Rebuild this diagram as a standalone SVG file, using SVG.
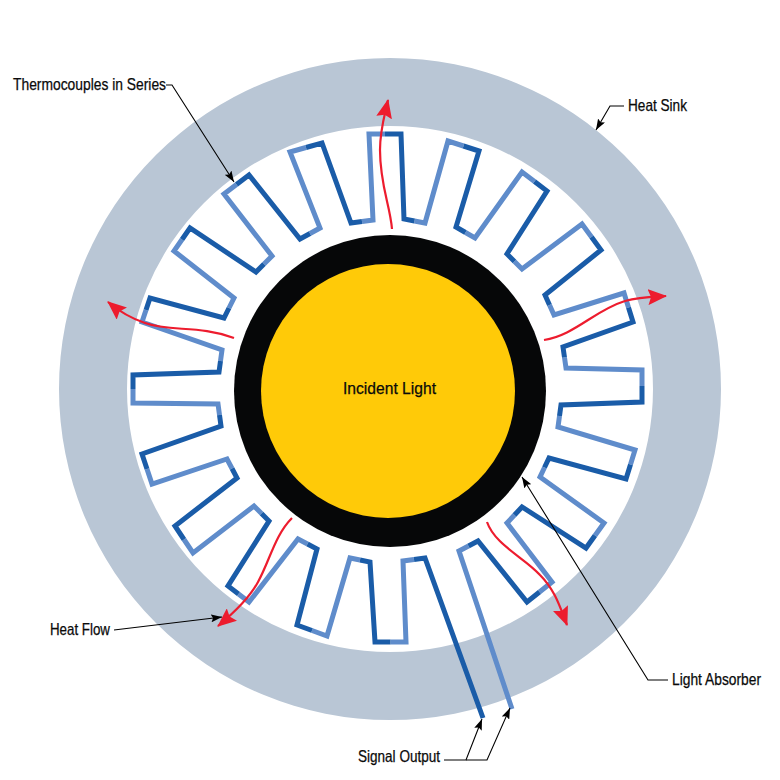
<svg xmlns="http://www.w3.org/2000/svg" width="780" height="780" viewBox="0 0 780 780">
<style>
text{font-family:"Liberation Sans",Arial,sans-serif;font-size:16.5px;fill:#0a0a0a;stroke:#0a0a0a;stroke-width:.25px}
.d,.l{fill:none;stroke-width:5;stroke-linejoin:miter;stroke-miterlimit:6}
.d{stroke:#1a5ca8}.l{stroke:#5f8ccb}
.r{fill:none;stroke:#ed1c2e;stroke-width:2.2}
.k{fill:none;stroke:#000;stroke-width:1.1}
</style>
<defs>
<marker id="ah" markerUnits="userSpaceOnUse" markerWidth="12" markerHeight="8" refX="11" refY="4" orient="auto"><path d="M0,0L11,4L0,8L2,4Z" fill="#000"/></marker>
<marker id="rh" markerUnits="userSpaceOnUse" markerWidth="20" markerHeight="16" refX="18" refY="8" orient="auto"><path d="M0,0L19,8L0,16L3,8Z" fill="#ed1c2e"/></marker>
</defs>
<g id="heat-sink"><path fill="#b9c6d5" fill-rule="evenodd" d="M59,389a331,331 0 1,0 662,0a331,331 0 1,0 -662,0ZM127,389a263,263 0 1,0 526,0a263,263 0 1,0 -526,0Z"/></g>
<g id="absorber"><circle cx="390" cy="391" r="156" fill="#060708"/></g>
<g id="light"><circle cx="388" cy="391" r="127" fill="#ffca08"/></g>
<g id="thermocouples">
<path class="l" d="M512,709L459,551L468.5,546M539.5,592L552,582L507,523L514.5,515M595,535.5L604,523L540,477L544.5,467.5M630.5,464.5L635,450L558,427L559.5,416M642,386L642,370L566,368L564.5,357.5M628.5,307.5L624,293L554,315L549.5,305M591.5,237L582,224L522,269L514.5,261.5M534.5,181.5L522,172L475,238L465.5,232.5M463.5,146L448,141L425,223L414.5,221M385,134L369,134L373,220L362,221.5M306,147.5L290,152L320,228L310,233.5M236.5,184.5L224,194L272,256L264,264M182,239.5L174,251L234,298L229,308M146,310L142,322L222,350L220.5,361M133,389L133,403L218,404L219.5,415M147,469L152,484L227,459L232,468.5M184,539.5L193,553L254,506L261.5,513.5M238.5,594L249,602L298,539L307.5,544M312,630.5L327,636L350,558L360,560M390.5,642L406,642L403,561L414,559.5"/>
<path class="d" d="M468.5,546L478,541L527,602L539.5,592M514.5,515L522,507L586,548L595,535.5M544.5,467.5L549,458L626,479L630.5,464.5M559.5,416L561,405L642,402L642,386M564.5,357.5L563,347L633,322L628.5,307.5M549.5,305L545,295L601,250L591.5,237M514.5,261.5L507,254L547,191L534.5,181.5M465.5,232.5L456,227L479,151L463.5,146M414.5,221L404,219L401,134L385,134M362,221.5L351,223L322,143L306,147.5M310,233.5L300,239L249,175L236.5,184.5M264,264L256,272L190,228L182,239.5M229,308L224,318L150,298L146,310M220.5,361L219,372L133,375L133,389M219.5,415L221,426L142,454L147,469M232,468.5L237,478L175,526L184,539.5M261.5,513.5L269,521L228,586L238.5,594M307.5,544L317,549L297,625L312,630.5M360,560L370,562L375,642L390.5,642M414,559.5L425,558L483,718"/>
</g>
<g id="connectors">
<path class="r" marker-end="url(#rh)" d="M392,229C390,205 380,185 380,150C380,130 384,118 388,100"/>
<path class="r" marker-end="url(#rh)" d="M234,338C200,325 170,332 145,323C130,318 120,312 108,302"/>
<path class="r" marker-end="url(#rh)" d="M544,340C575,335 595,310 625,301C640,297 650,297 666,296"/>
<path class="r" marker-end="url(#rh)" d="M292,518C275,535 270,560 258,582C250,597 235,612 218,626"/>
<path class="r" marker-end="url(#rh)" d="M487,522C495,545 525,558 540,575C555,590 560,607 567,625"/>
<path class="k" marker-end="url(#ah)" d="M166,85L172,85L234,182"/>
<path class="k" marker-end="url(#ah)" d="M624,106L610,106L596,130"/>
<path class="k" marker-end="url(#ah)" d="M668,680L648,680L522,477"/>
<path class="k" marker-end="url(#ah)" d="M114,630L222,617"/>
<path class="k" marker-end="url(#ah)" d="M444,760L466,760L482,719"/>
<path class="k" marker-end="url(#ah)" d="M466,760L487,760L510,708"/>
</g>
<g id="labels">
<text x="13" y="90" textLength="153" lengthAdjust="spacingAndGlyphs">Thermocouples in Series</text>
<text x="628" y="111" textLength="59" lengthAdjust="spacingAndGlyphs">Heat Sink</text>
<text x="343" y="394" textLength="93" lengthAdjust="spacingAndGlyphs">Incident Light</text>
<text x="50" y="635" textLength="60" lengthAdjust="spacingAndGlyphs">Heat Flow</text>
<text x="672" y="685" textLength="89" lengthAdjust="spacingAndGlyphs">Light Absorber</text>
<text x="358" y="762" textLength="82" lengthAdjust="spacingAndGlyphs">Signal Output</text>
</g>
</svg>
